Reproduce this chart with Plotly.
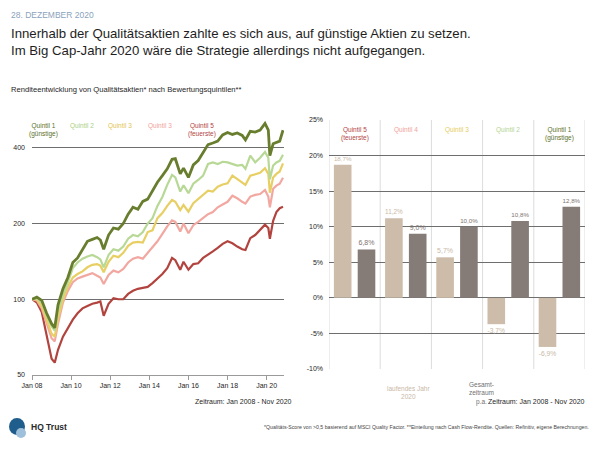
import plotly.graph_objects as go

# ---------------- data ----------------
dates = ["2008-01", "2008-04", "2008-07", "2008-10", "2009-01", "2009-03", "2009-05", "2009-08",
         "2009-11", "2010-02", "2010-05", "2010-08", "2010-11", "2011-02", "2011-05", "2011-07",
         "2011-09", "2011-12", "2012-03", "2012-06", "2012-09", "2012-12", "2013-03", "2013-06",
         "2013-09", "2013-12", "2014-03", "2014-06", "2014-09", "2014-12", "2015-03", "2015-05",
         "2015-08", "2015-10", "2016-01", "2016-04", "2016-07", "2016-10", "2017-01", "2017-04",
         "2017-07", "2017-10", "2018-01", "2018-04", "2018-07", "2018-10", "2018-12", "2019-03",
         "2019-06", "2019-09", "2019-12", "2020-02", "2020-03", "2020-05", "2020-07", "2020-09",
         "2020-11"]

q1 = [100, 102, 99, 88, 80, 77, 95, 110, 122, 140, 146, 157, 170, 173, 176, 172, 158, 180,
      192, 190, 200, 218, 232, 228, 245, 250, 270, 292, 310, 330, 360, 362, 315, 332, 305, 342,
      356, 382, 412, 418, 425, 450, 460, 452, 458, 448, 430, 465, 462, 470, 500, 470, 372, 415,
      420, 425, 470]
q2 = [100, 101, 97, 86, 78, 75, 90, 104, 117, 133, 140, 145, 148, 150, 147, 144, 134, 150,
      158, 156, 162, 174, 180, 178, 185, 200, 210, 235, 255, 285, 312, 305, 268, 284, 264, 288,
      298, 310, 345, 350, 345, 352, 350, 345, 340, 342, 330, 372, 350, 365, 385, 365, 300, 340,
      350, 355, 375]
q3 = [100, 100, 94, 82, 73, 71, 84, 100, 112, 122, 126, 129, 134, 137, 138, 136, 128, 141,
      149, 147, 153, 163, 168, 169, 168, 185, 188, 210, 220, 235, 248, 244, 226, 237, 223, 241,
      250, 260, 270, 268, 280, 286, 289, 310, 300, 292, 285, 310, 315, 318, 332, 315, 265, 305,
      315, 322, 347]
q4 = [100, 99, 92, 80, 70, 68, 80, 97, 108, 117, 121, 123, 125, 127, 124, 122, 115, 125,
      130, 128, 132, 140, 145, 147, 145, 153, 160, 170, 182, 195, 206, 203, 186, 200, 183, 197,
      203, 210, 218, 222, 232, 238, 244, 258, 252, 244, 240, 256, 260, 262, 272, 256, 232, 275,
      283, 288, 304]
q5 = [100, 97, 89, 72, 58, 56, 63, 71, 77, 83, 88, 92, 94, 96, 97, 98, 86, 96,
      101, 100, 100, 105, 108, 110, 111, 112, 116, 121, 126, 133, 146, 143, 131, 141, 131, 138,
      139, 146, 150, 155, 160, 166, 170, 167, 162, 158, 157, 175, 180, 188, 198, 192, 174, 205,
      222, 230, 233]

line_names = ["Quintil 1 (günstige)", "Quintil 2", "Quintil 3", "Quintil 4", "Quintil 5 (teuerste)"]
legend_texts = ["Quintil 1<br>(günstige)", "Quintil 2", "Quintil 3", "Quintil 3", "Quintil 5<br>(feuerste)"]
y_ticks_left = [50, 100, 200, 400]
x_tick_years = list(range(2008, 2021, 2))

bar_cats = ["Quintil 5", "Quintil 4", "Quintil 3", "Quintil 2", "Quintil 1"]
bar_headers = ["Quintil 5<br>(teuerste)", "Quintil 4", "Quintil 3", "Quintil 2", "Quintil 1<br>(günstige)"]
ytd_2020 = [18.7, 11.2, 5.7, -3.7, -6.9]
total_pa = [6.8, 9.0, 10.0, 10.8, 12.8]
y_ticks_right = [-10, -5, 0, 5, 10, 15, 20, 25]

# ---------------- styles ----------------
FONT = "Liberation Sans, Arial, sans-serif"
TXT = "#262626"
line_colors = ["#687e2e", "#b8d896", "#e8cf64", "#f2a8a1", "#b2443f"]
line_widths = [2.8, 2.2, 2.2, 2.2, 2.2]
legend_colors = ["#5d7028", "#a9cf86", "#dfc455", "#f0a29c", "#b2443f"]
header_colors = ["#b2443f", "#f0a29c", "#e6cc62", "#b2d494", "#5d7028"]
beige = "#cdbcaa"
taupe = "#857b77"
grid_dark = "#6e6e6e"

fig = go.Figure()

series = [q1, q2, q3, q4, q5]
# draw lowest first so Q1 is on top
for i in reversed(range(5)):
    fig.add_trace(go.Scatter(
        x=dates, y=series[i], mode="lines", name=line_names[i],
        line=dict(color=line_colors[i], width=line_widths[i]),
        xaxis="x", yaxis="y", showlegend=False, hoverinfo="skip"))

def fmt(v):
    return f"{v:.1f}%".replace(".", ",")

fig.add_trace(go.Bar(
    x=bar_cats, y=ytd_2020, name="laufendes Jahr 2020", marker_color=beige,
    text=[fmt(v) for v in ytd_2020], textposition="outside",
    textfont=dict(size=7, color="#c9b8a6", family=FONT), cliponaxis=False,
    xaxis="x2", yaxis="y2", showlegend=False, hoverinfo="skip"))
fig.add_trace(go.Bar(
    x=bar_cats, y=total_pa, name="Gesamtzeitraum p.a.", marker_color=taupe,
    text=[fmt(v) for v in total_pa], textposition="outside",
    textfont=dict(size=7, color="#7d736f", family=FONT), cliponaxis=False,
    xaxis="x2", yaxis="y2", showlegend=False, hoverinfo="skip"))

W, H = 600, 450
def px(x):
    return x / W
def py(y):
    return 1 - y / H

fig.update_layout(
    template="none",
    width=W, height=H, margin=dict(l=0, r=0, t=0, b=0, pad=0),
    paper_bgcolor="white", plot_bgcolor="white",
    font=dict(family=FONT, color=TXT, size=7),
    barmode="group", bargap=0.07, bargroupgap=0.26,
    xaxis=dict(
        domain=[px(32), px(284)], anchor="y", type="date", automargin=False,
        range=["2008-01-01", "2020-11-20"],
        tickvals=[f"{y}-01-01" for y in x_tick_years],
        ticktext=[f"Jan {str(y)[2:]}" for y in x_tick_years],
        showgrid=False, showline=True, linecolor="#9a9a9a", linewidth=1,
        ticks="outside", ticklen=4, tickcolor="#9a9a9a",
        tickfont=dict(size=7, color=TXT), zeroline=False),
    yaxis=dict(
        domain=[py(375), py(115)], anchor="x", type="log", automargin=False,
        range=[1.69897, 2.7324],
        tickvals=y_ticks_left, ticktext=[str(v) for v in y_ticks_left],
        showgrid=True, gridcolor=grid_dark, gridwidth=1.2,
        showline=False, ticks="", ticklabelstandoff=6,
        tickfont=dict(size=7, color=TXT), zeroline=False),
    xaxis2=dict(
        domain=[px(329), px(585)], anchor="y2", type="category", automargin=False,
        range=[-0.5, 4.5], showticklabels=False, showgrid=False,
        showline=False, ticks="", zeroline=False),
    yaxis2=dict(
        domain=[py(369), py(120)], anchor="x2", range=[-10, 25], automargin=False,
        tickvals=y_ticks_right, ticktext=[f"{v}%" for v in y_ticks_right],
        showgrid=True, gridcolor=grid_dark, gridwidth=1.2,
        zeroline=True, zerolinecolor=grid_dark, zerolinewidth=1.2,
        showline=False, ticks="", ticklabelstandoff=5,
        tickfont=dict(size=7, color=TXT)),
)

shapes = []
# vertical group separators on the bar chart
for k in range(len(bar_cats) + 1):
    shapes.append(dict(type="line", xref="x2", yref="y2", x0=k - 0.5, x1=k - 0.5,
                       y0=y_ticks_right[0], y1=y_ticks_right[-1],
                       line=dict(color="#dcdcdc", width=1), layer="below"))
# logo
shapes.append(dict(type="circle", xref="paper", yref="paper",
                   x0=px(9), x1=px(25), y0=py(435), y1=py(418),
                   fillcolor="#1f5d8c", line=dict(width=0)))
shapes.append(dict(type="circle", xref="paper", yref="paper",
                   x0=px(16), x1=px(26), y0=py(438), y1=py(428),
                   fillcolor="#9fc0da", line=dict(width=0)))
fig.update_layout(shapes=shapes)

ann = []
def A(text, x, y, size=7, color=TXT, xanchor="left", align="left"):
    ann.append(dict(text=text, x=px(x), y=py(y), xref="paper", yref="paper",
                    showarrow=False, xanchor=xanchor, yanchor="middle", align=align,
                    font=dict(size=size, color=color, family=FONT)))

A("28. DEZEMBER 2020", 9, 14.5, size=8.5, color="#8ba3bc")
A("Innerhalb der Qualitätsaktien zahlte es sich aus, auf günstige Aktien zu setzen.", 9, 33, size=13.2, color="#1e1e1e")
A("Im Big Cap-Jahr 2020 wäre die Strategie allerdings nicht aufgegangen.", 9, 50, size=13.2, color="#1e1e1e")
A("Renditeentwicklung von Qualitätsaktien* nach Bewertungsquintilen**", 9, 89.5, size=7.6)

# left chart legend labels
leg_x = [43, 82, 120, 159.5, 202]
for t, xx, c in zip(legend_texts, leg_x, legend_colors):
    ann.append(dict(text=t, x=px(xx), y=py(119.5), xref="paper", yref="paper",
                    showarrow=False, xanchor="center", yanchor="top", align="center",
                    font=dict(size=6.5, color=c, family=FONT)))

A("Zeitraum: Jan 2008 - Nov 2020", 294, 401.5, size=7, xanchor="right")

# bar headers
for cat, t, c in zip(bar_cats, bar_headers, header_colors):
    ann.append(dict(text=t, x=cat, y=py(124.5), xref="x2", yref="paper",
                    showarrow=False, xanchor="center", yanchor="top", align="center",
                    font=dict(size=6.5, color=c, family=FONT)))

A("laufendes Jahr<br>2020", 408, 392.5, size=6.5, color="#c9b8a6", xanchor="center", align="center")
A("Gesamt-<br>zeitraum<br>p.a.", 481, 393.5, size=6.5, color="#6f6f6f", xanchor="center", align="center")
A("Zeitraum: Jan 2008 - Nov 2020", 587, 401.5, size=7, xanchor="right")

A("<b>HQ Trust</b>", 29, 427, size=8.5, color="#2a2a2a")
A("*Qualitäts-Score von >0,5 basierend auf MSCI Quality Factor. **Einteilung nach Cash Flow-Rendite. Quellen: Refinitiv, eigene Berechnungen.",
  591, 427, size=5.2, color="#444444", xanchor="right")

fig.update_layout(annotations=ann, hovermode=False)

fig.write_html("out.html",
               config={"displayModeBar": False, "staticPlot": True},
               post_script="document.body.style.margin='0px';document.body.style.overflow='hidden';")
